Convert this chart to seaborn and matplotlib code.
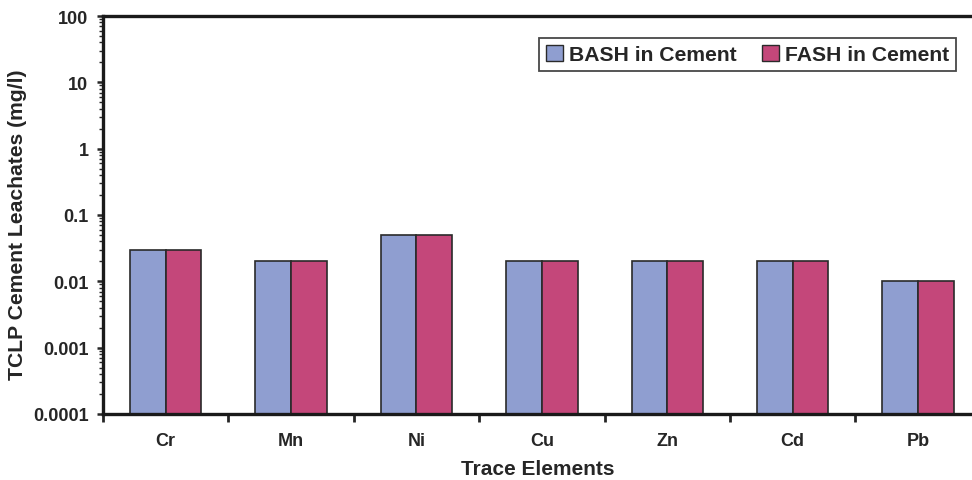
import matplotlib
matplotlib.use("Agg")
import matplotlib.pyplot as plt
from matplotlib.ticker import FixedLocator, NullFormatter, LogLocator
import seaborn as sns
import pandas as pd
import numpy as np

elements = ["Cr", "Mn", "Ni", "Cu", "Zn", "Cd", "Pb"]
bash_cement = [0.03, 0.02, 0.05, 0.02, 0.02, 0.02, 0.01]
fash_cement = [0.03, 0.02, 0.05, 0.02, 0.02, 0.02, 0.01]
series_names = ["BASH in Cement", "FASH in Cement"]
y_ticks = [0.0001, 0.001, 0.01, 0.1, 1, 10, 100]
y_tick_labels = ["0.0001", "0.001", "0.01", "0.1", "1", "10", "100"]

df = pd.DataFrame({
    "Element": elements * 2,
    "Series": [series_names[0]] * len(elements) + [series_names[1]] * len(elements),
    "Value": bash_cement + fash_cement,
})

sns.set_style("white")
plt.rcParams["font.family"] = ["Liberation Sans", "DejaVu Sans"]
plt.rcParams["font.weight"] = "bold"

fig = plt.figure(figsize=(9.72, 4.81), dpi=100)
ax = fig.add_axes([103 / 972, 1 - 415 / 481, (972 - 103) / 972, (415 - 17) / 481])
ax.set_yscale("log")

palette = {series_names[0]: "#8F9ED0", series_names[1]: "#C4477A"}
sns.barplot(data=df, x="Element", y="Value", hue="Series", palette=palette,
            width=0.57, edgecolor="#2a2a2a", linewidth=1.2, saturation=1,
            ax=ax)

ax.set_ylim(1e-4, 100)
ax.set_xlim(-0.5, 6.43)

ax.yaxis.set_major_locator(FixedLocator(y_ticks))
ax.set_yticklabels(y_tick_labels)
ax.yaxis.set_minor_locator(LogLocator(base=10, subs=np.arange(2, 10), numticks=20))
ax.yaxis.set_minor_formatter(NullFormatter())

ax.xaxis.set_minor_locator(FixedLocator(np.arange(-0.5, 6.0, 1.0)))
ax.tick_params(axis="x", which="major", length=0, pad=13)
ax.tick_params(axis="x", which="minor", direction="out", length=6, width=2, bottom=True)
ax.tick_params(axis="y", which="major", direction="out", length=4.5, width=1.8, left=True, pad=6)
ax.tick_params(axis="y", which="minor", direction="out", length=3, width=1, left=True)

for lab in ax.get_xticklabels() + ax.get_yticklabels():
    lab.set_fontweight("bold")
    lab.set_fontsize(13)

for side in ["left", "bottom", "top"]:
    ax.spines[side].set_visible(True)
    ax.spines[side].set_linewidth(2.4)
    ax.spines[side].set_color("#1a1a1a")
ax.spines["right"].set_visible(False)

ax.set_xlabel("Trace Elements", fontsize=15, fontweight="bold", labelpad=7)
ax.set_ylabel("TCLP Cement Leachates (mg/l)", fontsize=15.2, fontweight="bold")
ax.yaxis.set_label_coords(-0.087, 0.477)

leg = ax.legend(loc="upper right", bbox_to_anchor=(0.982, 0.945), ncol=2, frameon=True,
                fancybox=False, edgecolor="#1a1a1a",
                prop={"weight": "bold", "size": 15.2},
                handlelength=0.8, handleheight=0.8, handletextpad=0.3,
                columnspacing=1.2, borderpad=0.33, borderaxespad=0)
leg.get_frame().set_linewidth(1.3)
for h in leg.legend_handles:
    h.set_edgecolor("#2a2a2a")
    h.set_linewidth(1)

fig.savefig("out.png", dpi=100)
